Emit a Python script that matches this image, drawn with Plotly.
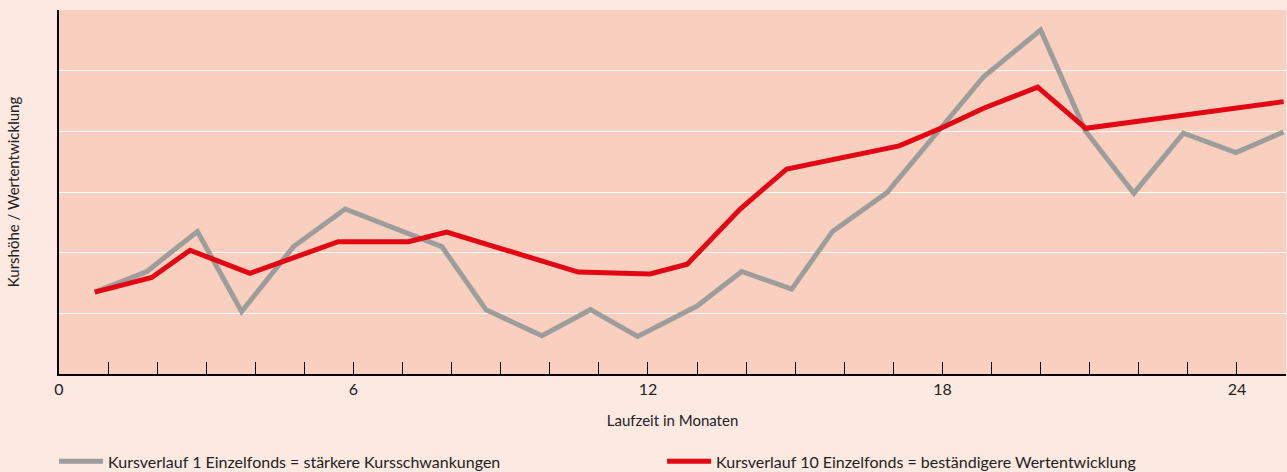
import plotly.graph_objects as go

# Data (months, relative index level)
gray_months = [0.73, 1.79, 2.82, 3.72, 4.78, 5.83, 7.80, 8.70, 9.84, 10.83, 11.79,
               13.0, 13.91, 14.93, 15.76, 16.87, 18.84, 20.0, 20.91, 21.9, 22.91, 23.98, 24.95]
gray_values = [1.35, 1.69, 2.35, 1.03, 2.10, 2.72, 2.10, 1.06, 0.63, 1.06, 0.62,
               1.12, 1.69, 1.40, 2.35, 2.99, 4.90, 5.67, 4.01, 2.98, 3.97, 3.65, 3.99]

red_months = [0.73, 1.89, 2.67, 3.89, 5.69, 7.12, 7.90, 10.58, 12.04, 12.80, 13.88,
              14.83, 17.12, 17.99, 18.84, 19.94, 20.92, 24.95]
red_values = [1.35, 1.59, 2.04, 1.66, 2.18, 2.18, 2.34, 1.68, 1.65, 1.81, 2.72,
              3.38, 3.76, 4.06, 4.38, 4.73, 4.05, 4.49]

gray_name = "Kursverlauf 1 Einzelfonds = stärkere Kursschwankungen"
red_name = "Kursverlauf 10 Einzelfonds = beständigere Wertentwicklung"

x_tickvals = list(range(0, 26))
x_ticktext = [str(v) if v % 6 == 0 else "" for v in x_tickvals]
y_gridvals = [1, 2, 3, 4, 5]

FONT = "Lato"
TXT = "#222222"
PAPER = "#fce9e2"

fig = go.Figure()
fig.add_trace(go.Scatter(x=gray_months, y=gray_values, mode="lines", name=gray_name,
                         line=dict(color="#9d9d9c", width=5)))
fig.add_trace(go.Scatter(x=red_months, y=red_values, mode="lines", name=red_name,
                         line=dict(color="#e30613", width=5)))

fig.update_layout(
    width=1287, height=472,
    margin=dict(l=59, r=1, t=10, b=98, autoexpand=False),
    paper_bgcolor=PAPER,
    plot_bgcolor="#f9cfbf",
    font=dict(family=FONT, size=14, color=TXT),
    showlegend=True,
    legend=dict(orientation="h", x=-0.004, xanchor="left", y=-0.24, yanchor="middle",
                entrywidth=549, entrywidthmode="pixels",
                font=dict(family=FONT, size=16, color=TXT),
                bgcolor="rgba(0,0,0,0)", itemwidth=44, tracegroupgap=0),
    xaxis=dict(range=[0, 25], tickmode="array", tickvals=x_tickvals, ticktext=x_ticktext,
               ticks="inside", ticklen=12, tickwidth=1, tickcolor="#000000",
               showline=True, linecolor="#000000", linewidth=1.5, showgrid=False,
               zeroline=False, automargin=False, tickfont=dict(size=16, color=TXT),
               title=dict(text="Laufzeit in Monaten", standoff=19, font=dict(size=15, color=TXT))),
    yaxis=dict(range=[0, 6], tickmode="array", tickvals=y_gridvals, showticklabels=False,
               showline=True, linecolor="#000000", linewidth=1.5, showgrid=True,
               gridcolor="#ffffff", gridwidth=1, zeroline=False, ticks="", automargin=False,
               title=dict(text="Kurshöhe / Wertentwicklung", standoff=34,
                          font=dict(size=15, color=TXT))),
)

fig.write_html(
    "out.html",
    config={"displayModeBar": False},
    post_script=f"document.body.style.margin='0';document.body.style.background='{PAPER}';",
)
